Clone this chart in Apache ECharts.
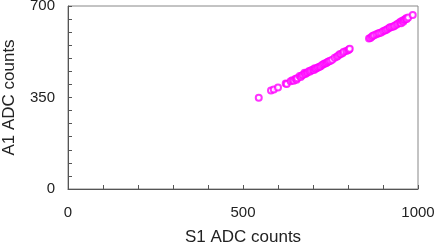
<!DOCTYPE html>
<html><head><meta charset="utf-8">
<script src="https://cdn.jsdelivr.net/npm/echarts@6/dist/echarts.min.js"></script>
<style>html,body{margin:0;padding:0;background:#fff}#c{width:436px;height:244px}</style>
</head><body><div id="c"></div>
<script>
var xTicks = [0, 500, 1000];
var yTicks = [0, 350, 700];
var s1 = [545,580,588,600,622,625,636,641,645,650,653,655,662,665,668,672,676,678,682,685,689,692,695,700,703,705,708,712,715,719,722,726,730,733,737,740,743,746,750,755,762,768,772,776,780,785,788,795,800,803,805,
          860,864,868,871,875,881,886,890,895,900,905,909,913,918,920,925,930,933,938,942,947,950,952,955,958,960,963,966,968,972,985];
var a1 = [349,377,381,388,404,402,412,416,414,422,418,424,432,428,434,437,445,440,444,447,451,449,454,457,455,462,460,463,466,468,470,474,477,480,481,484,487,489,491,494,502,506,510,515,516,520,525,528,531,534,536,
          576,578,582,586,588,592,595,597,599,603,606,608,612,616,619,620,622,624,628,632,636,640,634,644,640,646,648,653,650,656,666];
var pts = s1.map(function(v,i){return [v,a1[i]];});
var chart = echarts.init(document.getElementById('c'), null, {renderer:'canvas'});
var font = 'Liberation Sans, Arial, sans-serif';
chart.setOption({
  animation:false,
  grid:{left:68,right:18,top:6,bottom:55,show:true,borderColor:'#888',borderWidth:1,containLabel:false,outerBoundsMode:'none'},
  xAxis:{type:'value',min:xTicks[0],max:xTicks[2],interval:500,
    name:'S1 ADC counts',nameLocation:'middle',nameGap:40,
    nameTextStyle:{fontFamily:font,fontSize:17,color:'#222'},
    axisLine:{show:true,lineStyle:{color:'#555'}},
    axisTick:{show:true,inside:true,length:4,lineStyle:{color:'#555'}},
    minorTick:{show:true,splitNumber:5,length:4,lineStyle:{color:'#555'}},
    splitLine:{show:false},
    axisLabel:{fontFamily:font,fontSize:15,color:'#222',margin:16,formatter:function(v){return String(v);}}},
  yAxis:{type:'value',min:yTicks[0],max:yTicks[2],interval:350,
    name:'A1 ADC counts',nameLocation:'middle',nameGap:50,
    nameTextStyle:{fontFamily:font,fontSize:17,color:'#222'},
    axisLine:{show:true,lineStyle:{color:'#555'}},
    axisTick:{show:true,inside:true,length:4,lineStyle:{color:'#555'}},
    minorTick:{show:true,splitNumber:7,length:4,lineStyle:{color:'#555'}},
    splitLine:{show:false},
    axisLabel:{fontFamily:font,fontSize:15,color:'#222',margin:13}},
  series:[{type:'scatter',data:pts,symbol:'emptyCircle',symbolSize:6,
    itemStyle:{color:'#ff00ff',borderColor:'#ff00ff',borderWidth:1}}]
});
</script></body></html>
